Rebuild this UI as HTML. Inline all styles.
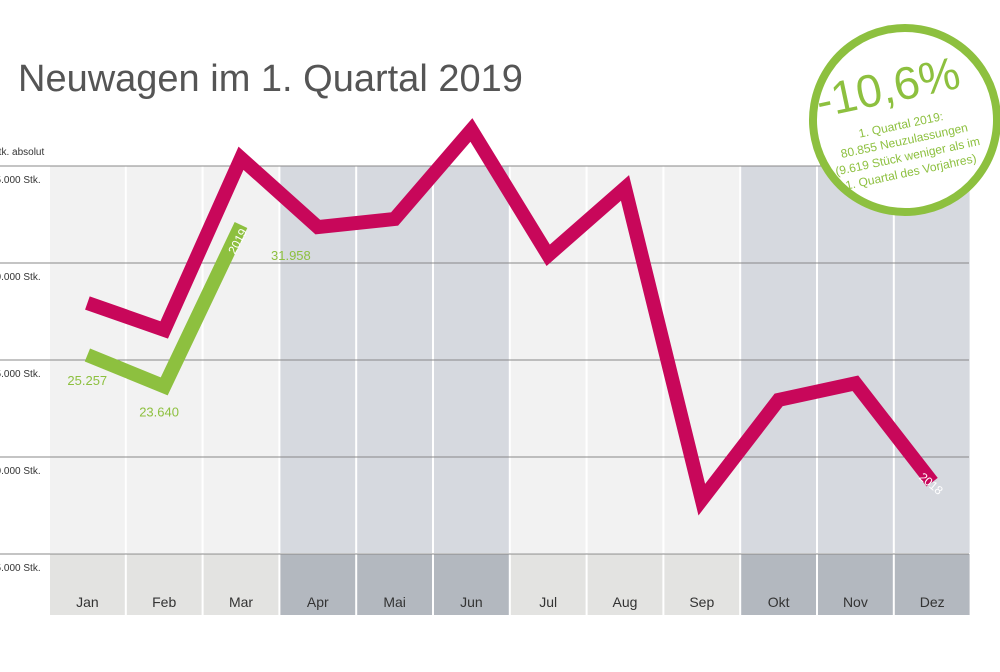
<!DOCTYPE html>
<html><head><meta charset="utf-8"><style>
body{margin:0;background:#fff;width:1000px;height:667px;overflow:hidden;font-family:"Liberation Sans",sans-serif}
</style></head><body>
<svg width="1000" height="667" id="chart">
<text x="18" y="91" font-size="38" fill="#555">Neuwagen im 1. Quartal 2019</text>
<text x="-8" y="155" font-size="10" fill="#333">Stk. absolut</text>
<g id="cols"></g><g id="grid"></g><g id="lines"></g>
<g transform="translate(905,120) rotate(-12)">
<circle r="92" fill="#fff" stroke="#8dc03f" stroke-width="8"/>
<text x="-10" y="-20" font-size="46" fill="#8dc03f" text-anchor="middle">-10,6%</text>
<text x="-5" y="8" font-size="12" fill="#8dc03f" text-anchor="middle">1. Quartal 2019:</text>
<text x="-5" y="24" font-size="12" fill="#8dc03f" text-anchor="middle">80.855 Neuzulassungen</text>
<text x="-5" y="40" font-size="12" fill="#8dc03f" text-anchor="middle">(9.619 Stück weniger als im</text>
<text x="-5" y="56" font-size="12" fill="#8dc03f" text-anchor="middle">1. Quartal des Vorjahres)</text>
</g>
</svg>
<script>
const months=["Jan","Feb","Mar","Apr","Mai","Jun","Jul","Aug","Sep","Okt","Nov","Dez"];
const dark=[0,0,0,1,1,1,0,0,0,1,1,1];
const ticks=[35000,30000,25000,20000,15000];
const tickLabels=["35.000 Stk.","30.000 Stk.","25.000 Stk.","20.000 Stk.","15.000 Stk."];
const v2018=[27940,26550,35400,31850,32270,36860,30400,33870,17800,22940,23800,18700];
const v2019=[25257,23640,31958];
const labels2019=["25.257","23.640","31.958"];
const NS="http://www.w3.org/2000/svg";
const x0=49,step=76.8;
const xC=i=>x0+step*i+step/2;
const y=v=>360-(v-25000)*0.0194;
function mk(t,a,p){const e=document.createElementNS(NS,t);for(const k in a)e.setAttribute(k,a[k]);p.appendChild(e);return e;}
const cols=document.getElementById('cols'),grid=document.getElementById('grid'),lines=document.getElementById('lines');
months.forEach((m,i)=>{
 const r=mk('rect',{x:x0+step*i+1,y:166,width:step-2,height:387,fill:dark[i]?'#d6d9df':'#f2f2f2'},cols);
 
 
 const s=mk('rect',{x:x0+step*i+1,y:554,width:step-2,height:61,fill:dark[i]?'#b3b8bf':'#e3e3e1'},cols);
 
 
 const t=mk('text',{x:xC(i),y:607,'font-size':14,fill:'#333','text-anchor':'middle'},cols);t.textContent=m;
 
 
});
ticks.forEach((v,i)=>{
 const l=mk('line',{x1:0,x2:969,y1:y(v),y2:y(v),stroke:'#888','stroke-width':1},grid);
 
 
 const t=mk('text',{x:-10,y:y(v)+17,'font-size':10,fill:'#333'},grid);t.textContent=tickLabels[i];
 
 
});
const p18=mk('polyline',{points:v2018.map((v,i)=>xC(i)+','+y(v)).join(' '),fill:'none',stroke:'#c8075a','stroke-width':14,'stroke-linejoin':'miter','stroke-miterlimit':10},lines);


const p19=mk('polyline',{points:v2019.map((v,i)=>xC(i)+','+y(v)).join(' '),fill:'none',stroke:'#8dc03f','stroke-width':14,'stroke-miterlimit':10},lines);


const lo=[[-20,30],[-25,30],[30,35]];
v2019.forEach((v,i)=>{
 const t=mk('text',{x:xC(i)+lo[i][0],y:y(v)+lo[i][1],'font-size':13,fill:'#8dc03f'},lines);t.textContent=labels2019[i];
 
 
});
const l19=mk('text',{x:0,y:0,'font-size':12,fill:'#fff',transform:`translate(${xC(2)-6},${y(v2019[2])+30}) rotate(-62)`},lines);l19.textContent='2019';


const l18=mk('text',{x:0,y:0,'font-size':12,fill:'#fff',transform:`translate(${xC(11)-14},${y(v2018[11])-4}) rotate(40)`},lines);l18.textContent='2018';


</script>
</body></html>
